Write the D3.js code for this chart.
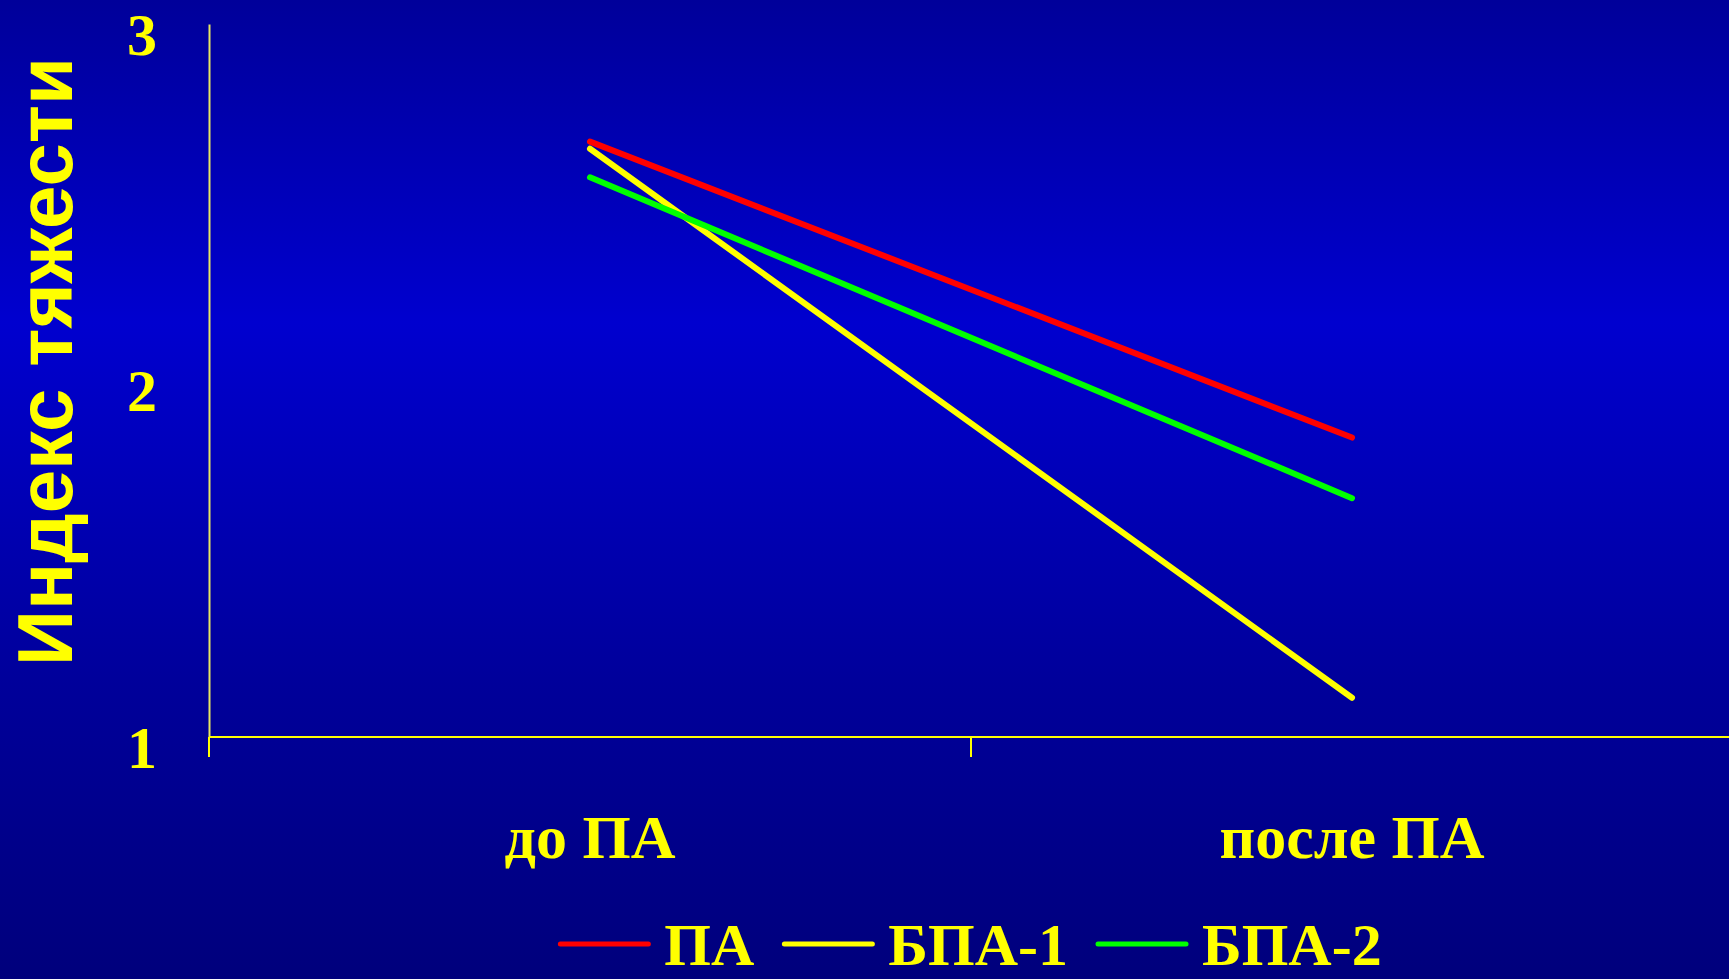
<!DOCTYPE html>
<html>
<head>
<meta charset="utf-8">
<script src="https://cdn.jsdelivr.net/npm/d3@7"></script>
<style>
  html, body { margin: 0; padding: 0; overflow: hidden; background: #000080; }
  svg { display: block; }
</style>
</head>
<body>
<svg id="chart" width="1729" height="979"></svg>
<script>
// Severity index before and after treatment, three patient groups
const categories = ["до ПА", "после ПА"];
const seriesNames = ["ПА", "БПА-1", "БПА-2"];
const seriesColors = ["#ff0000", "#ffff00", "#00ff00"];
const valuesPA = [2.67, 1.84];
const valuesBPA1 = [2.65, 1.11];
const valuesBPA2 = [2.57, 1.67];
const yTicks = [1, 2, 3];
const yTitle = "Индекс тяжести";

const seriesValues = [valuesPA, valuesBPA1, valuesBPA2];
const series = seriesNames.map((name, i) => ({
  name,
  color: seriesColors[i],
  points: categories.map((c, j) => ({ cat: c, value: seriesValues[i][j] }))
}));

const W = 1729, H = 979;
const margin = { left: 209, top: 24, right: -4, bottom: 242 };
const svg = d3.select("#chart");
const txtColor = "#ffff00";
const serif = "'Liberation Serif', 'Times New Roman', serif";
const sans = "'Liberation Sans', Arial, sans-serif";

// background gradient
const defs = svg.append("defs");
const grad = defs.append("linearGradient").attr("id", "bg")
  .attr("x1", 0).attr("y1", 0).attr("x2", 0).attr("y2", 1);
grad.append("stop").attr("offset", "0%").attr("stop-color", "#00009a");
grad.append("stop").attr("offset", "33%").attr("stop-color", "#0000cf");
grad.append("stop").attr("offset", "70%").attr("stop-color", "#00009a");
grad.append("stop").attr("offset", "100%").attr("stop-color", "#00007c");
svg.append("rect").attr("width", W).attr("height", H).attr("fill", "url(#bg)");

const x = d3.scaleBand()
  .domain(categories)
  .range([margin.left, W - margin.right])
  .paddingInner(0).paddingOuter(0);
const y = d3.scaleLinear()
  .domain([1, 3])
  .range([H - margin.bottom, margin.top]);

const xc = c => x(c) + x.bandwidth() / 2;

// value axis: line only, labels set left of it
const yAxis = d3.axisLeft(y).tickValues(yTicks).tickSize(0).tickPadding(52)
  .tickFormat(d3.format("d"));
const gy = svg.append("g").attr("transform", `translate(${margin.left},0)`).call(yAxis);
gy.select(".domain").attr("stroke", "#e8e860").attr("stroke-width", 2);
gy.selectAll(".tick text")
  .attr("fill", txtColor)
  .attr("font-family", serif)
  .attr("font-weight", "bold")
  .attr("font-size", 60)
  .attr("dy", "0.5em");

// category axis: boundary ticks below the baseline
const boundaries = [...categories.map(c => x(c)), x(categories[categories.length - 1]) + x.bandwidth()];
const gx = svg.append("g");
gx.append("line")
  .attr("x1", margin.left).attr("x2", W)
  .attr("y1", y(1)).attr("y2", y(1))
  .attr("stroke", txtColor).attr("stroke-width", 2);
gx.selectAll("line.tick").data(boundaries).join("line")
  .attr("class", "tick")
  .attr("x1", d => d).attr("x2", d => d)
  .attr("y1", y(1)).attr("y2", y(1) + 20)
  .attr("stroke", txtColor).attr("stroke-width", 2);
gx.selectAll("text").data(categories).join("text")
  .attr("x", d => xc(d))
  .attr("y", 858)
  .attr("text-anchor", "middle")
  .attr("fill", txtColor)
  .attr("font-family", serif)
  .attr("font-weight", "bold")
  .attr("font-size", 62)
  .text(d => d);

// y axis title
svg.append("text")
  .attr("transform", `translate(72,${(50 + 673) / 2}) rotate(-90)`)
  .attr("text-anchor", "middle")
  .attr("fill", txtColor)
  .attr("font-family", sans)
  .attr("font-weight", "bold")
  .attr("font-size", 78)
  .text(yTitle);

// series lines
const line = d3.line().x(d => xc(d.cat)).y(d => y(d.value));
svg.append("g").selectAll("path").data(series).join("path")
  .attr("d", d => line(d.points))
  .attr("fill", "none")
  .attr("stroke", d => d.color)
  .attr("stroke-width", 6)
  .attr("stroke-linecap", "round");

// legend, centred under the plot
const legend = svg.append("g");
const swatch = 88, gapText = 16, gapItem = 30, legY = 944;
const items = legend.selectAll("g").data(series).join("g");
items.append("line")
  .attr("x1", 0).attr("x2", swatch)
  .attr("y1", 0).attr("y2", 0)
  .attr("stroke", d => d.color)
  .attr("stroke-width", 5)
  .attr("stroke-linecap", "round");
items.append("text")
  .attr("x", swatch + gapText)
  .attr("y", 21)
  .attr("fill", txtColor)
  .attr("font-family", serif)
  .attr("font-weight", "bold")
  .attr("font-size", 60)
  .text(d => d.name);
let cursor = 0;
items.each(function () {
  const g = d3.select(this);
  g.attr("data-x", cursor);
  const w = swatch + gapText + g.select("text").node().getComputedTextLength();
  cursor += w + gapItem;
});
const total = cursor - gapItem;
const plotCenter = (margin.left + (W - margin.right)) / 2;
const start = plotCenter - total / 2;
items.attr("transform", function () {
  return `translate(${start + (+this.getAttribute("data-x"))},${legY})`;
});
</script>
</body>
</html>
